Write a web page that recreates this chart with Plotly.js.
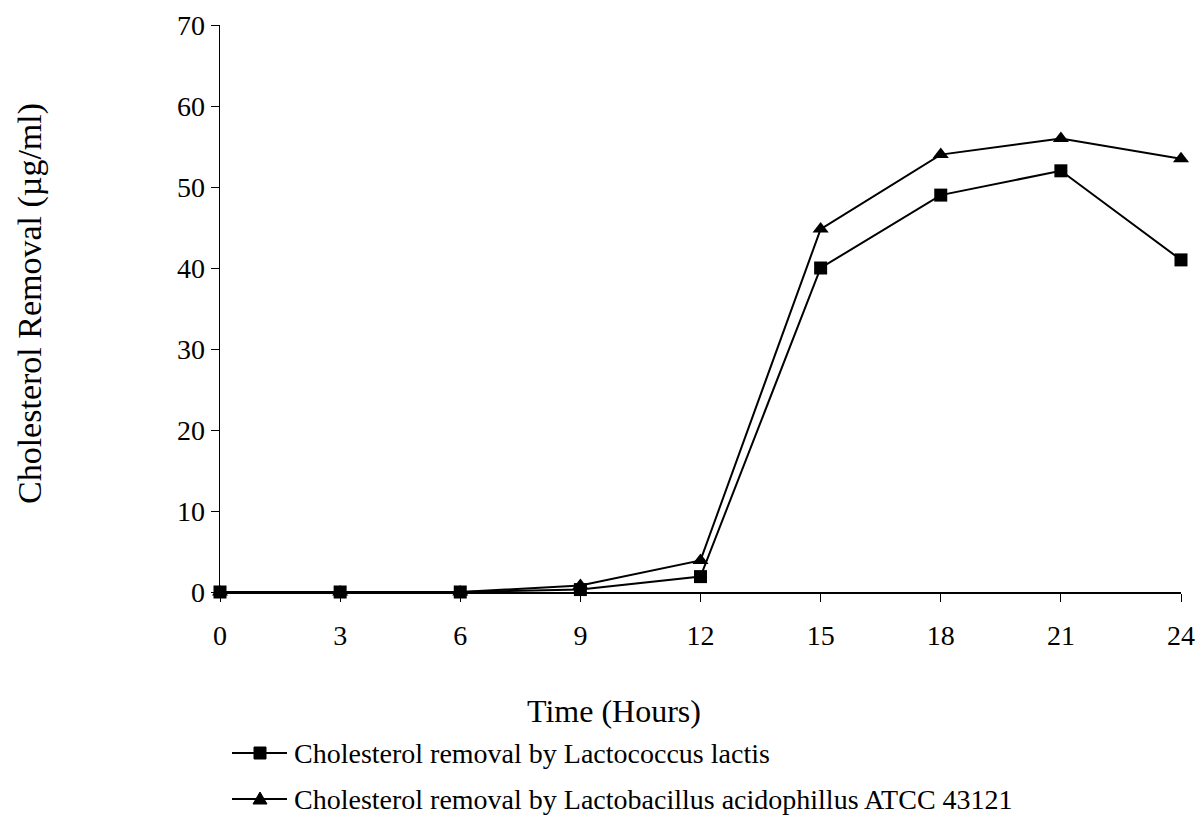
<!DOCTYPE html>
<html>
<head>
<meta charset="utf-8">
<script src="https://cdn.plot.ly/plotly-3.0.1.min.js"></script>
<style>html,body{margin:0;padding:0;background:#fff;}#chart{width:1199px;height:816px;}</style>
</head>
<body>
<div id="chart"></div>
<script>
const hours = [0, 3, 6, 9, 12, 15, 18, 21, 24];
const lactococcus = [0, 0, 0, 0.3, 1.9, 40, 49, 52, 41];
const lactobacillus = [0, 0, 0, 0.8, 3.9, 44.8, 54, 56, 53.5];
const xTicks = [0, 3, 6, 9, 12, 15, 18, 21, 24];
const yTicks = [0, 10, 20, 30, 40, 50, 60, 70];
const seriesNames = ["Cholesterol removal by Lactococcus lactis", "Cholesterol removal by Lactobacillus acidophillus ATCC 43121"];
const xTitle = "Time (Hours)";
const yTitle = "Cholesterol Removal (µg/ml)";

const font = {family: "Liberation Serif, Times New Roman, serif", color: "#000"};

// plot area geometry (pixels)
const M = {l: 220, r: 18, t: 25, b: 224};
const W = 1199, H = 816;
const pw = W - M.l - M.r, ph = H - M.t - M.b;
const px2x = p => (p - M.l) / pw;
const px2y = p => (H - M.b - p) / ph;

const traces = [
  {x: hours, y: lactobacillus, name: seriesNames[1], mode: "lines+markers",
   line: {color: "#000", width: 2}, marker: {symbol: "triangle-up", size: 14, color: "#000"}, cliponaxis: false},
  {x: hours, y: lactococcus, name: seriesNames[0], mode: "lines+markers",
   line: {color: "#000", width: 2}, marker: {symbol: "square", size: 13, color: "#000"}, cliponaxis: false}
];

// manual legend (keys + labels)
const legRows = [753, 799];
const keyX0 = 232, keyX1 = 287, keyC = 260, textX = 292;
const shapes = [];
legRows.forEach((ry, i) => {
  shapes.push({type: "line", xref: "paper", yref: "paper", x0: px2x(keyX0), x1: px2x(keyX1), y0: px2y(ry), y1: px2y(ry),
    line: {color: "#000", width: 2}});
  if (i === 0) {
    shapes.push({type: "rect", xref: "paper", yref: "paper", xsizemode: "pixel", ysizemode: "pixel",
      xanchor: px2x(keyC), yanchor: px2y(ry), x0: -6, x1: 6, y0: -6, y1: 6,
      fillcolor: "#000", line: {color: "#000", width: 1}});
  } else {
    shapes.push({type: "path", xref: "paper", yref: "paper", xsizemode: "pixel", ysizemode: "pixel",
      xanchor: px2x(keyC), yanchor: px2y(ry), path: "M -7 -5 L 7 -5 L 0 7 Z",
      fillcolor: "#000", line: {color: "#000", width: 1}});
  }
});

const annotations = [
  {text: xTitle, xref: "paper", yref: "paper", x: px2x(614), y: px2y(711), xanchor: "center", yanchor: "middle",
   showarrow: false, font: Object.assign({size: 32}, font)},
  {text: yTitle, xref: "paper", yref: "paper", x: px2x(30), y: px2y(304), xanchor: "center", yanchor: "middle",
   textangle: -90, showarrow: false, font: Object.assign({size: 34}, font)}
];
legRows.forEach((ry, i) => {
  annotations.push({text: seriesNames[i], xref: "paper", yref: "paper", x: px2x(textX), y: px2y(ry),
    xanchor: "left", yanchor: "middle", showarrow: false, font: Object.assign({size: 28}, font)});
});

const layout = {
  width: W, height: H,
  paper_bgcolor: "#fff", plot_bgcolor: "#fff",
  margin: M,
  font: Object.assign({size: 28}, font),
  showlegend: false,
  xaxis: {range: [0, 24], tickvals: xTicks, ticktext: xTicks.map(String), showgrid: false, zeroline: false,
    showline: true, linecolor: "#000", linewidth: 1.5, ticks: "outside", ticklen: 8, tickcolor: "#000",
    ticklabelstandoff: 10, automargin: false,
    tickfont: Object.assign({size: 28}, font)},
  yaxis: {range: [0, 70], tickvals: yTicks, ticktext: yTicks.map(String), showgrid: false, zeroline: false,
    showline: true, linecolor: "#000", linewidth: 1.5, ticks: "outside", ticklen: 8, tickcolor: "#000",
    automargin: false,
    tickfont: Object.assign({size: 28}, font)},
  shapes: shapes,
  annotations: annotations
};

Plotly.newPlot("chart", traces, layout, {displayModeBar: false, staticPlot: true});
</script>
</body>
</html>
